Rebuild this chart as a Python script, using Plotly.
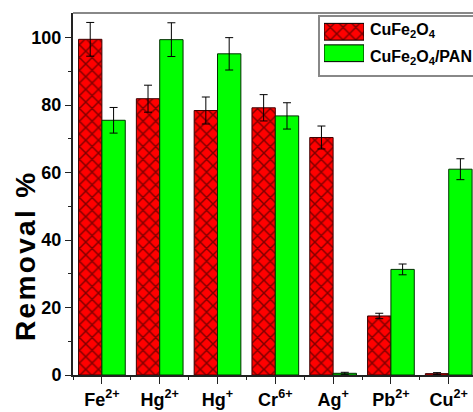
import plotly.graph_objects as go

categories = ["Fe<sup>2+</sup>", "Hg<sup>2+</sup>", "Hg<sup>+</sup>", "Cr<sup>6+</sup>",
              "Ag<sup>+</sup>", "Pb<sup>2+</sup>", "Cu<sup>2+</sup>"]
cufe2o4 = [99.5, 81.9, 78.4, 79.2, 70.4, 17.5, 0.4]
cufe2o4_err = [5.0, 4.0, 4.0, 3.9, 3.4, 0.8, 0.3]
cufe2o4_pan = [75.5, 99.4, 95.2, 76.8, 0.5, 31.3, 61.0]
cufe2o4_pan_err = [3.8, 5.0, 4.8, 3.9, 0.3, 1.6, 3.1]
series_names = ["CuFe<sub>2</sub>O<sub>4</sub>", "CuFe<sub>2</sub>O<sub>4</sub>/PAN"]
y_ticks = [0, 20, 40, 60, 80, 100]
y_title = "Removal %"

FONT = "Liberation Sans, Arial, sans-serif"
RED = "#FF0000"
GREEN = "#00FF00"
HATCH = dict(shape="x", fgcolor="black", bgcolor=RED, size=9,
             solidity=0.3, fillmode="overlay")

xpos = list(range(len(categories)))

fig = go.Figure()
fig.add_trace(go.Bar(
    x=xpos, y=cufe2o4, name=series_names[0],
    marker=dict(color=RED, line=dict(color="#400000", width=1), pattern=HATCH),
    error_y=dict(type="data", array=cufe2o4_err, color="black", thickness=1, width=4),
    showlegend=False,
))
fig.add_trace(go.Bar(
    x=xpos, y=cufe2o4_pan, name=series_names[1],
    marker=dict(color=GREEN, line=dict(color="#003000", width=1)),
    error_y=dict(type="data", array=cufe2o4_pan_err, color="black", thickness=1, width=4),
    showlegend=False,
))

# legend swatches drawn as bars on an overlay axis
fig.add_trace(go.Bar(
    x=[1], y=[1], orientation="h", xaxis="x2", yaxis="y2", width=0.78,
    marker=dict(color=RED, line=dict(color="black", width=1), pattern=HATCH),
    showlegend=False, hoverinfo="skip",
))
fig.add_trace(go.Bar(
    x=[1], y=[0], orientation="h", xaxis="x2", yaxis="y2", width=0.78,
    marker=dict(color=GREEN, line=dict(color="black", width=1)),
    showlegend=False, hoverinfo="skip",
))

W, H = 473, 412
L, R, T, B = 73, 0, 13, 37
pw, ph = W - L - R, H - T - B

def px(x):
    return (x - L) / pw

def py(y):
    return (H - B - y) / ph

spaced_title = "\u200a".join(y_title)

fig.update_layout(
    width=W, height=H,
    margin=dict(l=L, r=R, t=T, b=B, pad=0),
    paper_bgcolor="white", plot_bgcolor="white",
    barmode="group", bargap=0.192, bargroupgap=0,
    font=dict(family=FONT, size=18, color="black"),
    xaxis=dict(
        range=[-0.5, 6.42], tickvals=xpos, ticktext=categories,
        showgrid=False, zeroline=False,
        showline=True, linecolor="#222222", linewidth=2,
        ticks="outside", ticklen=7, tickwidth=1, tickcolor="#222222",
        tickfont=dict(family=FONT, size=18, weight="bold"),
        minor=dict(tickvals=[i + 0.5 for i in range(-1, len(categories))],
                   ticks="outside", ticklen=3, tickwidth=1, tickcolor="#222222"),
    ),
    yaxis=dict(
        range=[0, 107.3], tickvals=y_ticks,
        showgrid=False, zeroline=False,
        showline=True, linecolor="#222222", linewidth=2,
        ticks="outside", ticklen=6, tickwidth=1, tickcolor="#222222",
        tickfont=dict(family=FONT, size=18, weight="bold"),
        minor=dict(dtick=10, tick0=0, ticks="outside", ticklen=3, tickwidth=1,
                   tickcolor="#222222"),
    ),
    xaxis2=dict(domain=[px(324), px(364)], range=[0, 1], anchor="y2",
                visible=False, fixedrange=True),
    yaxis2=dict(domain=[py(64), py(21)], range=[-0.5, 1.5], anchor="x2",
                visible=False, fixedrange=True),
    shapes=[
        dict(type="line", xref="paper", yref="paper", x0=0, x1=1.01, y0=1, y1=1,
             line=dict(color="#888888", width=2)),
        dict(type="rect", xref="paper", yref="paper", x0=px(319), x1=1.02,
             y0=py(76), y1=py(16), fillcolor="white",
             line=dict(color="#888888", width=2), layer="below"),
    ],
    annotations=[
        dict(text="<b>" + spaced_title + "</b>", xref="paper", yref="paper",
             x=px(25), y=py(257), textangle=-90, showarrow=False,
             font=dict(family=FONT, size=28, color="black"),
             xanchor="center", yanchor="middle"),
        dict(text="<b>" + series_names[0] + "</b>", xref="paper", yref="paper",
             x=px(368), y=py(31), showarrow=False, xanchor="left", yanchor="middle",
             font=dict(family=FONT, size=16, color="black")),
        dict(text="<b>" + series_names[1] + "</b>", xref="paper", yref="paper",
             x=px(368), y=py(57), showarrow=False, xanchor="left", yanchor="middle",
             font=dict(family=FONT, size=16, color="black")),
    ],
)

fig.write_html("out.html")
